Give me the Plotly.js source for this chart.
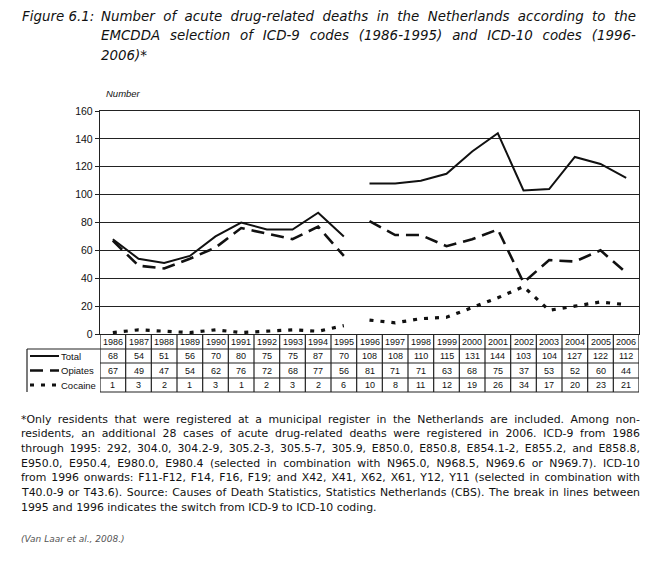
<!DOCTYPE html>
<html><head><meta charset="utf-8">
<script src="https://cdn.plot.ly/plotly-3.0.1.min.js"></script>
<style>html,body{margin:0;padding:0;background:#fff}#c{width:666px;height:570px}</style>
</head><body><div id="c"></div>
<script>
const years = [1986,1987,1988,1989,1990,1991,1992,1993,1994,1995,1996,1997,1998,1999,2000,2001,2002,2003,2004,2005,2006];
const total = [68,54,51,56,70,80,75,75,87,70,108,108,110,115,131,144,103,104,127,122,112];
const opiates = [67,49,47,54,62,76,72,68,77,56,81,71,71,63,68,75,37,53,52,60,44];
const cocaine = [1,3,2,1,3,1,2,3,2,6,10,8,11,12,19,26,34,17,20,23,21];
const seriesNames = ['Total','Opiates','Cocaine'];
const breakIndex = 10; // ICD-9 -> ICD-10 switch between 1995 and 1996
const yTicks = [0,20,40,60,80,100,120,140,160];
const figLabel = 'Figure 6.1:';
const titleLines = [
 'Number of acute drug-related deaths in the Netherlands according to the',
 'EMCDDA selection of ICD-9 codes (1986-1995) and ICD-10 codes (1996-',
 '2006)*'
];
const noteLines = [
 '*Only residents that were registered at a municipal register in the Netherlands are included. Among non-',
 'residents, an additional 28 cases of acute drug-related deaths were registered in 2006. ICD-9 from 1986',
 'through 1995: 292, 304.0, 304.2-9, 305.2-3, 305.5-7, 305.9, E850.0, E850.8, E854.1-2, E855.2, and E858.8,',
 'E950.0, E950.4, E980.0, E980.4 (selected in combination with N965.0, N968.5, N969.6 or N969.7). ICD-10',
 'from 1996 onwards: F11-F12, F14, F16, F19; and X42, X41, X62, X61, Y12, Y11 (selected in combination with',
 'T40.0-9 or T43.6). Source: Causes of Death Statistics, Statistics Netherlands (CBS). The break in lines between',
 '1995 and 1996 indicates the switch from ICD-9 to ICD-10 coding.'
];
const sourceText = '(Van Laar et al., 2008.)';

// geometry helpers (pixel -> paper)
const L=100, R=639, T=111, B=334;
const px = x => (x-L)/(R-L);
const py = y => (B-y)/(B-T);

const styles = [
  {color:'#111', width:2, dash:'solid'},
  {color:'#111', width:2.6, dash:'13px,7px'},
  {color:'#111', width:3.2, dash:'4px,7px'}
];
const data = [];
[total, opiates, cocaine].forEach((vals,i)=>{
  [[0,breakIndex],[breakIndex,years.length]].forEach(([a,b])=>{
    data.push({x:years.slice(a,b), y:vals.slice(a,b), type:'scatter', mode:'lines',
      line:Object.assign({},styles[i]), showlegend:false, hoverinfo:'skip', name:seriesNames[i]});
  });
});

const shapes = [], annotations = [];
const justify = []; // [annotation index, right px]
const rowEdges = [334,349,363,378,392];
const rowCenters = [341.5,356,370.5,385];
rowEdges.forEach((y,j)=>{
  if(j===0) return;
  shapes.push({type:'line', xref:'paper', yref:'paper', x0:(j===1?px(27):0), x1:1, y0:py(y), y1:py(y), line:{color:'#222',width:1.2}});
});
years.forEach(yr=>{
  shapes.push({type:'line', xref:'x', yref:'paper', x0:yr-0.5, x1:yr-0.5, y0:py(334), y1:py(392), line:{color:'#222',width:1.2}});
});
shapes.push({type:'line', xref:'x', yref:'paper', x0:years[years.length-1]+0.5, x1:years[years.length-1]+0.5, y0:py(334), y1:py(392), line:{color:'#222',width:1.2}});
shapes.push({type:'line', xref:'paper', yref:'paper', x0:px(27), x1:px(27), y0:py(349), y1:py(392), line:{color:'#222',width:1.2}});
[0,1,2].forEach(i=>{
  const yc = py(rowCenters[i+1]);
  shapes.push({type:'line', xref:'paper', yref:'paper', x0:px(30), x1:px(59), y0:yc, y1:yc, line:Object.assign({},styles[i])});
  annotations.push({xref:'paper', yref:'paper', x:px(59), y:yc, text:seriesNames[i], showarrow:false, xanchor:'left', yanchor:'middle',
    font:{family:'Liberation Sans, Arial, sans-serif', size:9.5, color:'#111'}});
});
const rows = [years, total, opiates, cocaine];
rows.forEach((r,j)=>{
  r.forEach((v,k)=>{
    annotations.push({xref:'x', yref:'paper', x:years[k], y:py(rowCenters[j]), text:String(v), showarrow:false,
      xanchor:'center', yanchor:'middle', font:{family:'Liberation Sans, Arial, sans-serif', size:9, color:'#111'}});
  });
});
const titleFont = {family:'DejaVu Sans, Verdana, sans-serif', size:13.4, color:'#111', style:'italic'};
annotations.push({xref:'paper', yref:'paper', x:px(20), y:py(16), text:figLabel, showarrow:false, xanchor:'left', yanchor:'middle', align:'left', font:titleFont});
titleLines.forEach((t,i)=>{
  if(i<titleLines.length-1) justify.push([annotations.length, 636]);
  annotations.push({xref:'paper', yref:'paper', x:px(99), y:py(16+i*20), text:t, showarrow:false, xanchor:'left', yanchor:'middle', align:'left', font:titleFont});
});
annotations.push({xref:'paper', yref:'paper', x:px(104), y:py(93), text:'Number', showarrow:false, xanchor:'left', yanchor:'middle',
  font:{family:'Liberation Sans, Arial, sans-serif', size:9.5, color:'#111', style:'italic'}});
noteLines.forEach((t,i)=>{
  if(i<noteLines.length-1) justify.push([annotations.length, 640]);
  annotations.push({xref:'paper', yref:'paper', x:px(19), y:py(419+i*14.7), text:t, showarrow:false, xanchor:'left', yanchor:'middle', align:'left',
    font:{family:'DejaVu Sans, Verdana, sans-serif', size:10.9, color:'#111'}});
});
annotations.push({xref:'paper', yref:'paper', x:px(19), y:py(539), text:sourceText, showarrow:false, xanchor:'left', yanchor:'middle', align:'left',
  font:{family:'DejaVu Sans, Verdana, sans-serif', size:9, color:'#555', style:'italic'}});

const layout = {
  width:666, height:570, paper_bgcolor:'#fff', plot_bgcolor:'#fff',
  margin:{l:L, r:666-R, t:T, b:570-B, pad:0},
  xaxis:{range:[1985.5,2006.5], showticklabels:false, ticks:'', showgrid:false, zeroline:false,
    showline:true, linecolor:'#222', linewidth:1.2, mirror:true},
  yaxis:{range:[0,160], tickvals:yTicks, ticktext:yTicks.map(String), ticks:'outside', ticklen:4, tickcolor:'#222',
    showgrid:true, gridcolor:'#222', gridwidth:1.2, zeroline:false, showline:true, linecolor:'#222', linewidth:1.2, mirror:true,
    tickfont:{family:'Liberation Sans, Arial, sans-serif', size:10.5, color:'#111'}},
  shapes:shapes, annotations:annotations
};
Plotly.newPlot('c', data, layout, {displayModeBar:false, staticPlot:true}).then(gd=>{
  const groups = gd.querySelectorAll('.infolayer g.annotation');
  justify.forEach(([idx, right])=>{
    const g = groups[idx]; if(!g) return;
    const txt = g.querySelector('text.annotation-text'); if(!txt) return;
    const bb = txt.getBoundingClientRect();
    const spaces = (txt.textContent.match(/ /g)||[]).length;
    if(!spaces) return;
    const extra = right - bb.right;
    if(extra>0) txt.style.wordSpacing = (extra/spaces)+'px';
  });
});
</script></body></html>
